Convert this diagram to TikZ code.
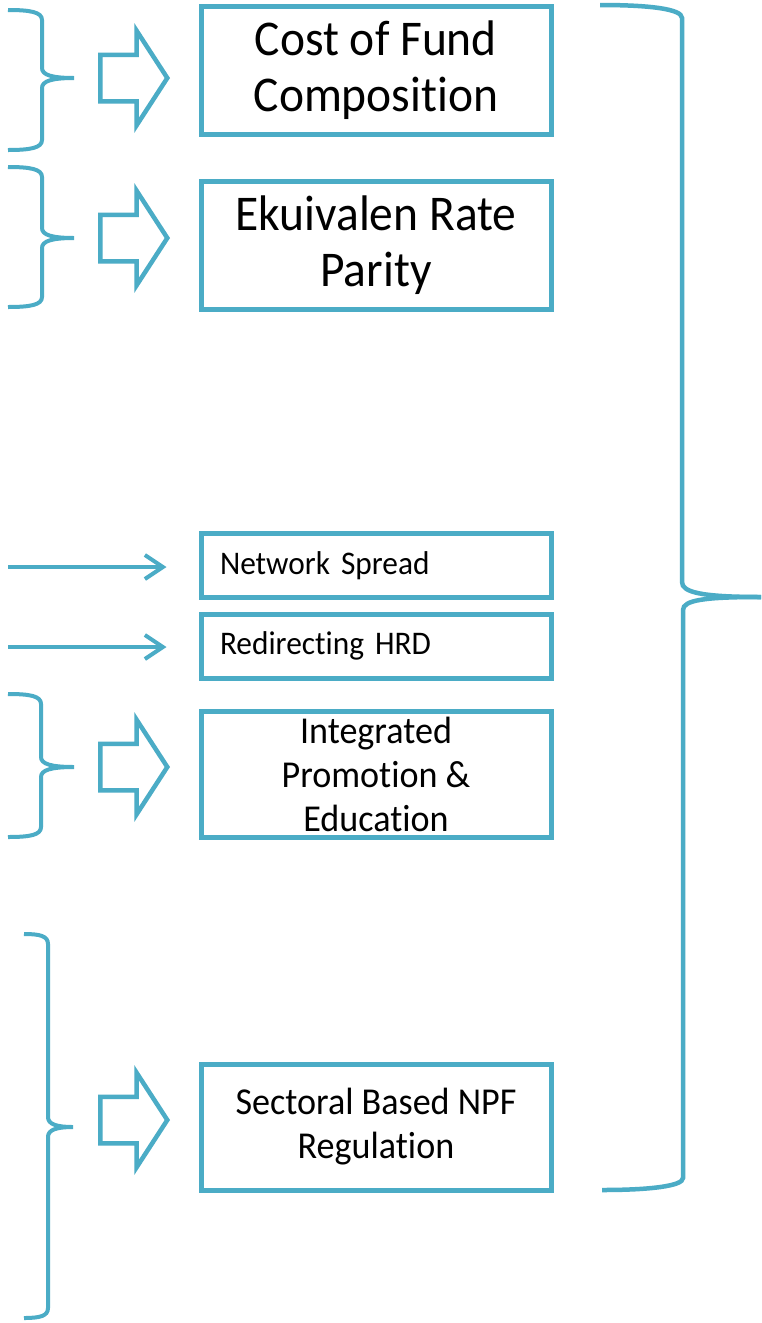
\documentclass[tikz,border=0pt]{standalone}
\usepackage{fontspec}
\setmainfont{Carlito}[FakeStretch=0.95, Ligatures=NoCommon]
\usetikzlibrary{shapes.arrows,arrows.meta}

\definecolor{aqua}{HTML}{4BACC6}

\tikzstyle{box} = [rectangle, draw=aqua, line width=5pt, inner sep=0pt,
                   minimum width=350pt]
\tikzstyle{big} = [box, minimum height=128pt, align=center,
                   font=\fontsize{50}{56}\selectfont]
\tikzstyle{mid} = [box, minimum height=126pt, align=center,
                   font=\fontsize{38}{44}\selectfont]
\tikzstyle{slim} = [box, minimum height=64pt, inner xsep=19pt,
                    text width=312pt, align=left, font=\fontsize{33}{40}\selectfont]
\tikzstyle{fat} = [single arrow, draw=aqua, line width=4.5pt,
                   inner xsep=0pt, inner ysep=21pt, minimum height=67pt, anchor=tip,
                   single arrow head extend=24pt, single arrow tip angle=114]
\tikzstyle{link} = [-{Straight Barb[length=18pt, width=24pt]}, draw=aqua,
                    line width=4pt, shorten >=32pt]
\tikzstyle{curly} = [draw=aqua, line width=4pt]

\begin{document}
\begin{tikzpicture}[x=1pt, y=-1pt]
  \path [use as bounding box, fill=white] (0,0) rectangle (761,1323);

  %% Boxes
  \node (cof) [big] at (376,70.5) {Cost of Fund\\Composition};
  \node (erp) [big] at (376,245.5) {Ekuivalen Rate\\Parity};
  \node (net) [slim] at (376,565.5) {Network Spread};
  \node (hrd) [slim] at (376,646) {Redirecting HRD};
  \node (promo) [mid] at (376,774) {Integrated\\Promotion \&\\Education};
  \node (npf) [mid] at (376,1127) {Sectoral Based NPF\\Regulation};

  %% Block arrows into the boxes
  \node (cof-arrow) [fat] at (170,78) {};
  \node (erp-arrow) [fat] at (170,238) {};
  \node (promo-arrow) [fat] at (170,767) {};
  \node (npf-arrow) [fat] at (170,1120) {};

  %% Plain arrows
  \coordinate (net-src) at (8,567);
  \coordinate (hrd-src) at (8,647);
  \draw [link] (net-src) -- (net-src -| net.west);
  \draw [link] (hrd-src) -- (hrd-src -| hrd.west);

  %% Braces on the left
  \draw [curly] (8,10) .. controls (30,10) and (42,12) .. (42,20) -- (42,68)
    .. controls (42,75) and (52,78) .. (74,78) .. controls (52,78) and (42,81) .. (42,88)
    -- (42,140) .. controls (42,148) and (30,150) .. (8,150);
  \draw [curly] (8,167) .. controls (30,167) and (42,169) .. (42,177) -- (42,228)
    .. controls (42,235) and (52,238) .. (74,238) .. controls (52,238) and (42,241) .. (42,248)
    -- (42,297) .. controls (42,305) and (30,307) .. (8,307);
  \draw [curly] (8,694) .. controls (30,694) and (41,696) .. (41,704) -- (41,757)
    .. controls (41,764) and (51,767) .. (74,767) .. controls (51,767) and (41,770) .. (41,777)
    -- (41,827) .. controls (41,835) and (30,837) .. (8,837);
  \draw [curly] (24,934) .. controls (40,934) and (48,936) .. (48,944) -- (48,1117)
    .. controls (48,1124) and (56,1127) .. (73,1127) .. controls (56,1127) and (48,1130) .. (48,1137)
    -- (48,1308) .. controls (48,1316) and (40,1318) .. (24,1318);

  %% Big brace on the right
  \draw [curly, line width=4.5pt] (600,5) .. controls (650,5) and (682,9) .. (682,18)
    -- (682,582) .. controls (682,592) and (700,597) .. (761,597);
  \draw [curly, line width=4.5pt] (761,597) .. controls (705,597) and (683,600) .. (683,610)
    -- (683,1178) .. controls (683,1186) and (650,1190) .. (602,1190);

\end{tikzpicture}
\end{document}
